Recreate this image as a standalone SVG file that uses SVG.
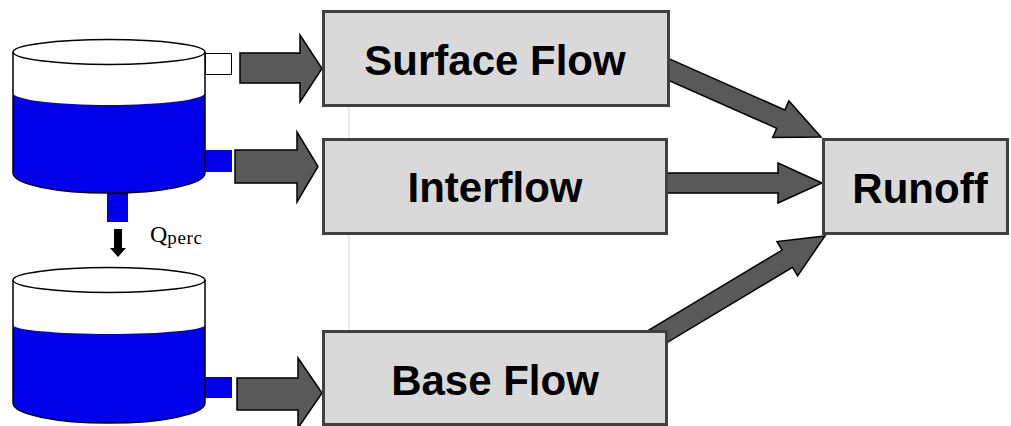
<svg xmlns="http://www.w3.org/2000/svg" width="1011" height="426" viewBox="0 0 1011 426">
  <style>
    .box { fill: #d9d9d9; stroke: #404040; stroke-width: 3; }
    .label { font-family: "Liberation Sans", Arial, sans-serif; font-weight: bold; font-size: 42px; fill: #000; text-anchor: middle; }
    .block { fill: #595959; stroke: #000; stroke-width: 1.5; stroke-linejoin: miter; }
    .water { fill: #0000ea; }
    .outline { fill: none; stroke: #000; stroke-width: 1.5; }
    .sym { font-family: "Liberation Serif", "Times New Roman", serif; fill: #000; }
  </style>
  <defs>
    <!-- thin block arrow with its tip at the origin, pointing along +x -->
    <path id="fat-arrow" d="M-200,-10 H-44 V-20 L0,0 L-44,20 V10 H-200 Z"/>
  </defs>

  <rect width="1011" height="426" fill="#fff"/>

  <!-- faint guide line between the flow boxes -->
  <line x1="349" y1="107" x2="349" y2="330" stroke="#d4d4d4" stroke-width="1"/>

  <!-- upper reservoir -->
  <g id="upper-tank">
    <rect x="107" y="185" width="21" height="37" class="water"/>
    <rect x="205" y="150" width="27" height="22" class="water"/>
    <rect x="205.5" y="53.5" width="26" height="21" fill="#fff" stroke="#000" stroke-width="1"/>
    <path class="water" d="M13,93 A96,12 0 0 0 205,93 L205,173 A96,20 0 0 1 13,173 Z"/>
    <ellipse cx="109" cy="52" rx="96" ry="12.5" class="outline" fill="#fff"/>
    <path class="outline" d="M13,52 V173 A96,20 0 0 0 205,173 V52"/>
  </g>

  <!-- percolation between the reservoirs -->
  <g id="percolation">
    <path d="M114,229 H122 V248 H126 L118,257 L110,248 H114 Z" fill="#000"/>
    <text class="sym" x="150" y="242" font-size="24">Q<tspan font-size="19" dy="2" letter-spacing="0.6">perc</tspan></text>
  </g>

  <!-- lower reservoir -->
  <g id="lower-tank">
    <rect x="205" y="377" width="27" height="21" class="water"/>
    <path class="water" d="M13,325 A96,9 0 0 0 205,325 L205,403 A96,20 0 0 1 13,403 Z"/>
    <ellipse cx="109" cy="280" rx="96" ry="12.5" class="outline"/>
    <path class="outline" d="M13,280 V403 A96,20 0 0 0 205,403 V280"/>
  </g>

  <!-- connectors -->
  <g id="connectors">
    <path class="block" d="M240,53 H300 V35 L322,68.5 L300,102 V83 H240 Z"/>
    <path class="block" d="M235,150 H297 V132 L318,166.5 L297,202 V183 H235 Z"/>
    <path class="block" d="M237,378 H298 V358 L322,393 L298,428 V410 H237 Z"/>
    <use href="#fat-arrow" class="block" transform="translate(821,137) rotate(23.9)"/>
    <use href="#fat-arrow" class="block" transform="translate(822,183)"/>
    <use href="#fat-arrow" class="block" transform="translate(825,236) rotate(-31)"/>
  </g>

  <g id="surface-flow">
    <rect class="box" x="323.5" y="11.5" width="345" height="94"/>
    <text class="label" x="495" y="75">Surface Flow</text>
  </g>

  <g id="interflow">
    <rect class="box" x="323.5" y="139.5" width="343" height="94"/>
    <text class="label" x="495" y="202">Interflow</text>
  </g>

  <g id="base-flow">
    <rect class="box" x="323.5" y="331.5" width="343" height="93"/>
    <text class="label" x="495" y="395">Base Flow</text>
  </g>

  <g id="runoff">
    <rect class="box" x="823.5" y="139.5" width="184" height="94"/>
    <text class="label" x="920" y="203">Runoff</text>
  </g>
</svg>
